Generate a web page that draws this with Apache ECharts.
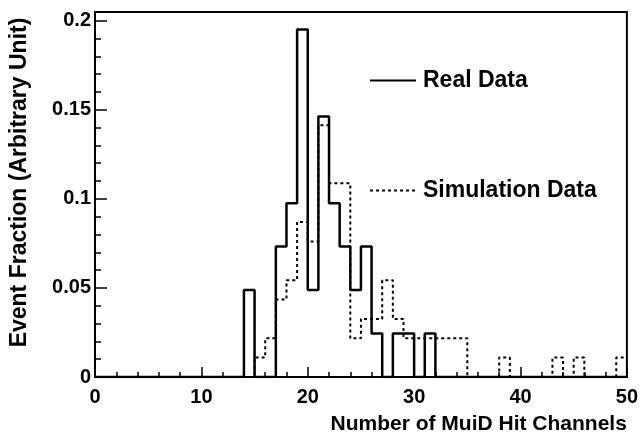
<!DOCTYPE html>
<html>
<head>
<meta charset="utf-8">
<script src="https://cdn.jsdelivr.net/npm/echarts@6/dist/echarts.min.js"></script>
<style>html,body{margin:0;padding:0;background:#fff}#c{width:641px;height:435px}</style>
</head>
<body>
<div id="c"></div>
<script>
// Bin lower edges 0..49 (bin width 1)
var binEdges = [0,1,2,3,4,5,6,7,8,9,10,11,12,13,14,15,16,17,18,19,20,21,22,23,24,25,26,27,28,29,30,31,32,33,34,35,36,37,38,39,40,41,42,43,44,45,46,47,48,49,50];
var realData = [0,0,0,0,0,0,0,0,0,0, 0,0,0,0,0.0488,0,0,0.0732,0.0976,0.1951, 0.0488,0.1463,0.0976,0.0732,0.0488,0.0732,0.0244,0,0.0244,0.0244, 0,0.0244,0,0,0,0,0,0,0,0, 0,0,0,0,0,0,0,0,0,0];
var simData  = [0,0,0,0,0,0,0,0,0,0, 0,0,0,0,0,0.0109,0.0217,0.0435,0.0543,0.0870, 0.0761,0.1413,0.1087,0.1087,0.0217,0.0326,0.0326,0.0543,0.0326,0.0217, 0.0217,0.0217,0.0217,0.0217,0.0217,0,0,0,0.0109,0, 0,0,0,0.0109,0,0.0109,0,0,0,0.0109];
var yTicks = [0, 0.05, 0.1, 0.15, 0.2];
var xTicks = [0, 10, 20, 30, 40, 50];
var yAxisTitle = 'Event Fraction (Arbitrary Unit)';
var xAxisTitle = 'Number of MuiD Hit Channels';
var realName = 'Real Data';
var simName = 'Simulation Data';

function stepPoints(vals) {
  var pts = [];
  for (var i = 0; i < vals.length; i++) pts.push([binEdges[i], vals[i]]);
  pts.push([binEdges[vals.length], vals[vals.length - 1]]);
  return pts;
}

var FONT = 'Liberation Sans, Arial, sans-serif';
var chart = echarts.init(document.getElementById('c'), null, {renderer: 'canvas'});
var legendCommon = {itemWidth: 46, itemHeight: 20, itemGap: 0, padding: 0,
  itemStyle: {opacity: 0, borderWidth: 0},
  textStyle: {fontFamily: FONT, fontWeight: 'bold', fontSize: 23, color: '#000', padding: [0, 0, 0, 2]}};
chart.setOption({
  animation: false,
  backgroundColor: '#fff',
  grid: {left: 93, right: 11, top: 12, bottom: 58, show: true, borderColor: '#000', borderWidth: 2, backgroundColor: 'transparent'},
  legend: [
    Object.assign({data: [realName], left: 369, top: 69}, legendCommon),
    Object.assign({data: [simName], left: 369, top: 179}, legendCommon)
  ],
  xAxis: {
    type: 'value', min: xTicks[0], max: xTicks[xTicks.length - 1], interval: 10,
    axisLine: {show: true, lineStyle: {color: '#000', width: 2}},
    axisTick: {show: true, inside: true, length: 10, lineStyle: {color: '#000', width: 1.5}},
    minorTick: {show: true, splitNumber: 5, length: 5, lineStyle: {color: '#000', width: 1.5}},
    splitLine: {show: false},
    axisLabel: {fontFamily: FONT, fontWeight: 'bold', fontSize: 20, color: '#000', margin: 10},
    name: xAxisTitle, nameLocation: 'end', nameGap: 0,
    nameTextStyle: {fontFamily: FONT, fontWeight: 'bold', fontSize: 21, color: '#000', align: 'right', verticalAlign: 'top', padding: [37, 0, 0, 0]}
  },
  yAxis: {
    type: 'value', min: 0, max: 0.2049, interval: 0.05,
    axisLine: {show: true, lineStyle: {color: '#000', width: 2}},
    axisTick: {show: true, inside: true, length: 12, lineStyle: {color: '#000', width: 1.5}},
    minorTick: {show: true, splitNumber: 5, length: 6, lineStyle: {color: '#000', width: 1.5}},
    splitLine: {show: false},
    axisLabel: {fontFamily: FONT, fontWeight: 'bold', fontSize: 20, color: '#000', margin: 4,
      formatter: function (v) {
        for (var i = 0; i < yTicks.length; i++) if (Math.abs(v - yTicks[i]) < 1e-6) return String(yTicks[i]);
        return '';
      }},
    name: yAxisTitle, nameLocation: 'middle', nameGap: 64, nameRotate: 90,
    nameTextStyle: {fontFamily: FONT, fontWeight: 'bold', fontSize: 23, color: '#000', padding: [0, 0, 0, 24]}
  },
  series: [
    {name: realName, type: 'line', step: 'end', symbol: 'none', data: stepPoints(realData),
     lineStyle: {color: '#000', width: 2.5, type: 'solid'}, itemStyle: {color: '#000'}, z: 3},
    {name: simName, type: 'line', step: 'end', symbol: 'none', data: stepPoints(simData),
     lineStyle: {color: '#000', width: 2, type: [3, 3]}, itemStyle: {color: '#000'}, z: 2}
  ]
});
</script>
</body>
</html>
